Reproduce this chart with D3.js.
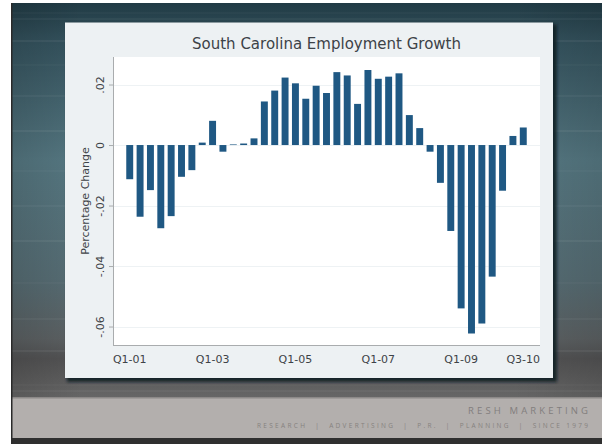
<!DOCTYPE html>
<html>
<head>
<meta charset="utf-8">
<script src="https://cdn.jsdelivr.net/npm/d3@7"></script>
<style>
  html, body { margin: 0; padding: 0; background: #ffffff; }
  svg { display: block; }
</style>
</head>
<body>
<svg id="slide" width="602" height="444"></svg>
<script>
// Quarterly employment growth, South Carolina, Q1 2001 – Q3 2010
const quarters = [
  "Q1-01","Q2-01","Q3-01","Q4-01",
  "Q1-02","Q2-02","Q3-02","Q4-02",
  "Q1-03","Q2-03","Q3-03","Q4-03",
  "Q1-04","Q2-04","Q3-04","Q4-04",
  "Q1-05","Q2-05","Q3-05","Q4-05",
  "Q1-06","Q2-06","Q3-06","Q4-06",
  "Q1-07","Q2-07","Q3-07","Q4-07",
  "Q1-08","Q2-08","Q3-08","Q4-08",
  "Q1-09","Q2-09","Q3-09","Q4-09",
  "Q1-10","Q2-10","Q3-10"
];
const growth = [
  -0.0113, -0.0237, -0.0149, -0.0275,
  -0.0235, -0.0105, -0.0083,  0.0008,
   0.0080, -0.0022,  0.0002,  0.0005,
   0.0022,  0.0144,  0.0180,  0.0223,
   0.0204,  0.0153,  0.0196,  0.0172,
   0.0241,  0.0230,  0.0136,  0.0248,
   0.0219,  0.0226,  0.0237,  0.0099,
   0.0056, -0.0022, -0.0125, -0.0284,
  -0.0540, -0.0623, -0.0590, -0.0435,
  -0.0151,  0.0030,  0.0058
];
const xTickLabels = ["Q1-01","Q1-03","Q1-05","Q1-07","Q1-09","Q3-10"];
const yTicks = [0.02, 0, -0.02, -0.04, -0.06];
const titleText = "South Carolina Employment Growth";
const yTitle = "Percentage Change";
const brandName = "RESH MARKETING";
const brandLine = "RESEARCH  |  ADVERTISING  |  P.R.  |  PLANNING  |  SINCE 1979";

const svg = d3.select("#slide");
const defs = svg.append("defs");

// ---- slide backdrop ----
const bg = defs.append("linearGradient").attr("id", "bgV")
  .attr("x1", 0).attr("y1", 0).attr("x2", 0).attr("y2", 1);
[[0, "#213b45"], [0.1, "#34525d"], [0.4, "#557781"], [0.7, "#566c73"],
 [0.85, "#5b6062"], [0.9, "#525253"], [1, "#666666"]]
  .forEach(([o, c]) => bg.append("stop").attr("offset", o).attr("stop-color", c));

const bgH = defs.append("linearGradient").attr("id", "bgH")
  .attr("x1", 0).attr("y1", 0).attr("x2", 1).attr("y2", 0);
[[0, "#000", 0.12], [0.12, "#000", 0.0], [0.85, "#000", 0.0], [1, "#000", 0.1]]
  .forEach(([o, c, a]) => bgH.append("stop").attr("offset", o)
    .attr("stop-color", c).attr("stop-opacity", a));

const shadowBlur = defs.append("filter").attr("id", "shadow")
  .attr("x", "-5%").attr("y", "-5%").attr("width", "115%").attr("height", "115%");
shadowBlur.append("feGaussianBlur").attr("stdDeviation", 1.5);

svg.append("rect").attr("x", 11).attr("y", 3).attr("width", 591).attr("height", 395)
  .attr("fill", "url(#bgV)");
svg.append("rect").attr("x", 11).attr("y", 3).attr("width", 591).attr("height", 395)
  .attr("fill", "url(#bgH)");
// brushed-metal streaks
const streakRows = [12, 18, 40, 64, 95, 130, 170, 205, 240, 282, 318, 350, 384, 390];
svg.append("g").selectAll("rect").data(streakRows).join("rect")
  .attr("x", 11).attr("width", 591).attr("y", d => d).attr("height", 2)
  .attr("fill", "#ffffff").attr("opacity", (d, i) => 0.025 + (i % 3) * 0.015);

// footer band
svg.append("rect").attr("x", 11).attr("y", 398).attr("width", 591).attr("height", 40)
  .attr("fill", "#b3afad");
svg.append("rect").attr("x", 11).attr("y", 397).attr("width", 591).attr("height", 1.5)
  .attr("fill", "#8c8988");
svg.append("rect").attr("x", 11).attr("y", 438).attr("width", 591).attr("height", 6)
  .attr("fill", "#2f2f2f");
svg.append("rect").attr("x", 11).attr("y", 3).attr("width", 1.5).attr("height", 441)
  .attr("fill", "#2a2a2a");

svg.append("text").attr("x", 588).attr("y", 414)
  .attr("text-anchor", "end")
  .attr("font-family", "'Open Sans', 'DejaVu Sans', sans-serif")
  .attr("font-size", 9.5).attr("fill", "#827e7d")
  .attr("textLength", 120).attr("lengthAdjust", "spacing")
  .text(brandName);
svg.append("text").attr("x", 588).attr("y", 428)
  .attr("text-anchor", "end").attr("xml:space", "preserve")
  .style("white-space", "pre")
  .attr("font-family", "'Open Sans', 'DejaVu Sans', sans-serif")
  .attr("font-size", 6.5).attr("fill", "#86827f")
  .attr("textLength", 331).attr("lengthAdjust", "spacing")
  .text(brandLine);

// ---- chart panel ----
const panel = { x: 65, y: 22.5, w: 488, h: 355.5 };
svg.append("rect").attr("x", panel.x + 2).attr("y", panel.y + 2)
  .attr("width", panel.w + 2).attr("height", panel.h + 2)
  .attr("fill", "#101c20").attr("opacity", 0.85).attr("filter", "url(#shadow)");
svg.append("rect").attr("x", panel.x).attr("y", panel.y)
  .attr("width", panel.w).attr("height", panel.h).attr("fill", "#edf1f3");

const plot = { left: 113, right: 540, top: 57, bottom: 345 };
svg.append("rect").attr("x", plot.left).attr("y", plot.top)
  .attr("width", plot.right - plot.left).attr("height", plot.bottom - plot.top)
  .attr("fill", "#ffffff");

const x = d3.scaleBand()
  .domain(quarters)
  .range([plot.left, plot.right])
  .paddingInner(0.33)
  .paddingOuter(1.28);

const y = d3.scaleLinear()
  .domain([-0.0661, 0.0291])
  .range([plot.bottom, plot.top]);

// Stata-style labels: ".02", "0", "-.02"
const fmt = d => d === 0 ? "0" : (d < 0 ? "-" : "") + d3.format(".2f")(Math.abs(d)).replace("0.", ".");

// gridlines
svg.append("g").selectAll("line").data(yTicks).join("line")
  .attr("x1", plot.left).attr("x2", plot.right)
  .attr("y1", d => Math.round(y(d)) + 0.5).attr("y2", d => Math.round(y(d)) + 0.5)
  .attr("stroke", "#eef2f4").attr("stroke-width", 1);

// bars
svg.append("g").selectAll("rect").data(quarters).join("rect")
  .attr("x", d => x(d))
  .attr("width", x.bandwidth())
  .attr("y", (d, i) => y(Math.max(0, growth[i])))
  .attr("height", (d, i) => Math.abs(y(growth[i]) - y(0)))
  .attr("fill", "#1f5883");

// y axis
const yAxis = svg.append("g")
  .attr("transform", `translate(${plot.left},0)`)
  .call(d3.axisLeft(y).tickValues(yTicks).tickSize(4).tickPadding(0).tickFormat(fmt));
yAxis.select(".domain").attr("d", `M0.5,${plot.top}V${plot.bottom}`).attr("stroke", "#a9acae");
yAxis.selectAll(".tick line").attr("stroke", "#a9acae");
yAxis.selectAll(".tick text")
  .attr("x", null).attr("dy", null)
  .attr("text-anchor", "middle")
  .attr("transform", "translate(-9.5,0) rotate(-90)")
  .attr("font-family", "'DejaVu Sans', sans-serif")
  .attr("font-size", 11).attr("fill", "#3d4347");

// x axis
const xAxis = svg.append("g")
  .attr("transform", `translate(0,${plot.bottom})`)
  .call(d3.axisBottom(x).tickValues(xTickLabels).tickSize(0).tickPadding(0));
xAxis.select(".domain").attr("d", `M${plot.left},0.5H${plot.right}`).attr("stroke", "#a9acae");
xAxis.selectAll(".tick text")
  .attr("y", 18).attr("dy", null)
  .attr("font-family", "'DejaVu Sans', sans-serif")
  .attr("font-size", 11).attr("fill", "#3d4347");

// axis title
svg.append("text")
  .attr("transform", `translate(89,${(plot.top + plot.bottom) / 2}) rotate(-90)`)
  .attr("text-anchor", "middle")
  .attr("font-family", "'DejaVu Sans', sans-serif")
  .attr("font-size", 11).attr("fill", "#3d4347")
  .text(yTitle);

// chart title
svg.append("text")
  .attr("x", (plot.left + plot.right) / 2).attr("y", 49)
  .attr("text-anchor", "middle")
  .attr("font-family", "'DejaVu Sans', sans-serif")
  .attr("font-size", 15).attr("fill", "#3c4247")
  .text(titleText);
</script>
</body>
</html>
